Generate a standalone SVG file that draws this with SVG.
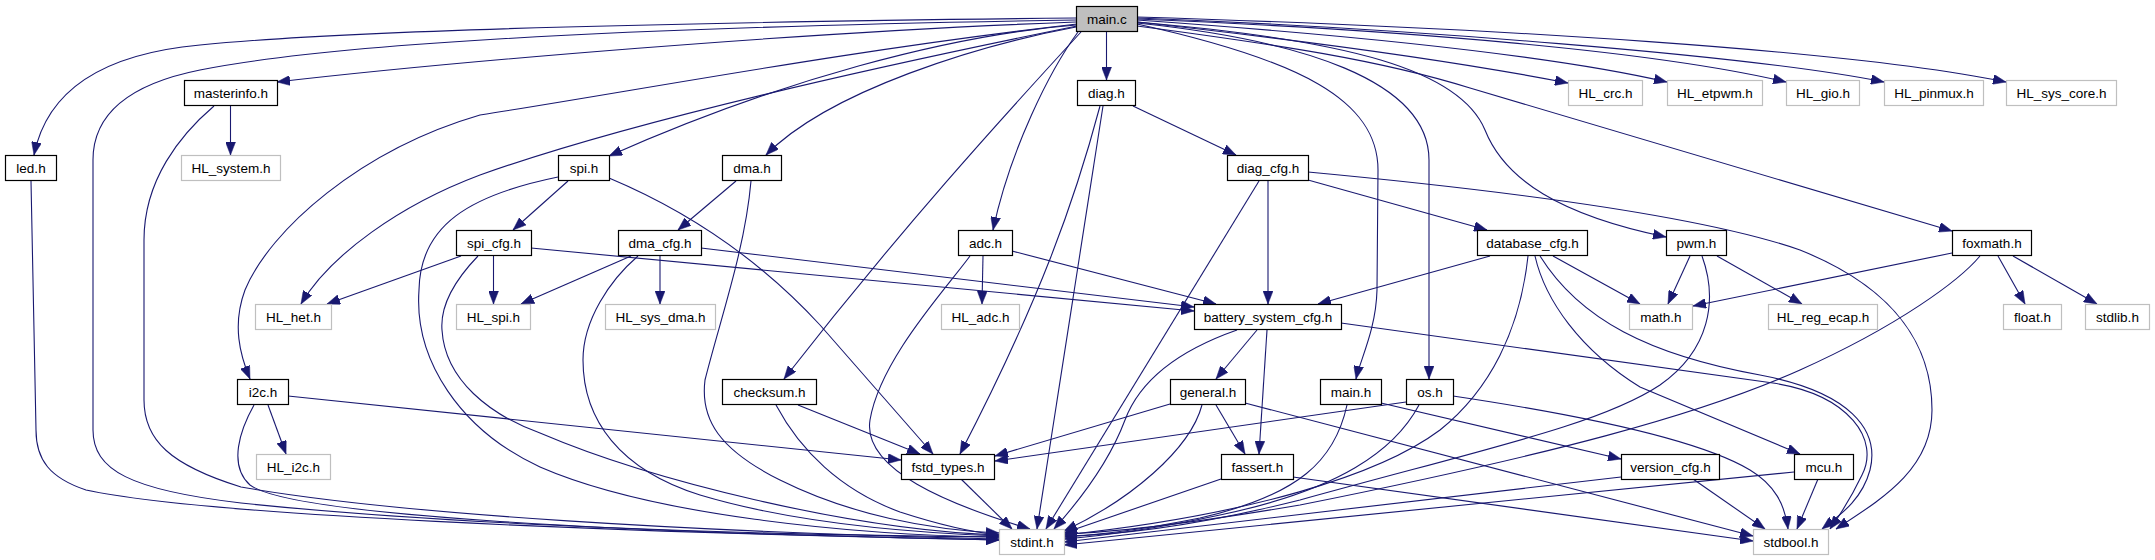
<svg xmlns="http://www.w3.org/2000/svg" width="2155" height="560" viewBox="0 0 2155 560">
<style>
.n rect{fill:#fff;stroke:#000;stroke-width:1.2}
.g rect{fill:#fff;stroke:#bfbfbf;stroke-width:1.2}
.c rect{fill:#bfbfbf;stroke:#000;stroke-width:1.2}
text{font-family:"Liberation Sans",Arial,Helvetica,sans-serif;font-size:13.5px;text-anchor:middle;fill:#000}
#edges path{fill:none;stroke:#191970;stroke-width:1.1;marker-end:url(#a)}
</style>
<defs>
<marker id="a" markerWidth="13" markerHeight="10" refX="13" refY="5" orient="auto" markerUnits="userSpaceOnUse"><path d="M0,0L13,5L0,10z" fill="#191970" stroke="#191970" stroke-width="0.5"/></marker>
</defs>
<rect width="2155" height="560" fill="#fff"/>
<g id="edges">
<path d="M1076,18 C700,22 350,30 200,45 C90,55 45,100 34,155"/>
<path d="M1076,20 C700,26 350,40 200,70 C120,86 93,120 93,160 L93,430 C93,470 130,490 241,503 C450,525 750,535 999,537"/>
<path d="M1076,22 C800,32 450,62 277,82"/>
<path d="M230.5,106 L230.5,155"/>
<path d="M214,106 C180,135 144,180 144,240 L144,400 C144,440 170,465 241,487 C400,515 700,532 999,539"/>
<path d="M31,181 L36,430 C36,460 50,478 86,490 C200,515 600,532 999,540"/>
<path d="M1076,25 C950,35 780,80 609,156"/>
<path d="M1076,27 C980,45 830,90 766,155"/>
<path d="M1077,26 C860,70 620,125 480,175 C400,205 330,255 301,304"/>
<path d="M1077,24 C850,50 640,90 480,115 C360,150 270,230 245,290 C232,325 240,355 250,379"/>
<path d="M1081,32 C1000,120 900,230 784,379"/>
<path d="M1078,32 C1050,70 1010,150 993,230"/>
<path d="M1106.5,32 L1106.5,80"/>
<path d="M1137,24 C1300,60 1378,100 1378,170 L1377,290 C1376,330 1360,360 1356,379"/>
<path d="M1137,23 C1300,40 1429,80 1429,160 L1429,379"/>
<path d="M1137,22 C1350,40 1460,70 1485,130 C1505,180 1560,215 1666,237"/>
<path d="M1137,26 C1280,45 1380,60 1470,88 L1952,231"/>
<path d="M1137,22 C1300,40 1450,60 1568,83"/>
<path d="M1137,20 C1350,35 1550,55 1667,82"/>
<path d="M1137,19 C1400,30 1650,50 1786,82"/>
<path d="M1137,18 C1400,28 1750,55 1884,82"/>
<path d="M1137,17 C1500,28 1850,50 2006,82"/>
<path d="M568,181 L513,230"/>
<path d="M609,178 C690,212 760,260 820,325 L933,454"/>
<path d="M558,177 C470,195 420,225 419,290 C414,360 460,430 540,467 C650,515 850,535 999,537"/>
<path d="M478,256 C455,280 440,305 442,330 C445,380 490,415 540,433 C650,480 850,530 999,535"/>
<path d="M461,256 L327,304"/>
<path d="M493.5,256 L493.5,304"/>
<path d="M531,248 L1194,311"/>
<path d="M736,181 L678,230"/>
<path d="M751,181 C745,250 720,320 705,380 C700,420 720,450 780,480 C850,515 930,530 999,533"/>
<path d="M631,256 L521,304"/>
<path d="M660,256 L660,304"/>
<path d="M701,248 L1194,307"/>
<path d="M638,256 C610,280 583,320 583,360 C583,420 620,470 700,495 C800,525 920,533 999,536"/>
<path d="M983,256 L982,304"/>
<path d="M1012,251 L1216,304"/>
<path d="M970,256 C945,290 880,360 870,420 C862,470 950,505 1030,529"/>
<path d="M1133,106 L1236,155"/>
<path d="M1100,106 C1075,200 1040,300 960,454"/>
<path d="M1103,106 L1037,529"/>
<path d="M1268,181 L1268,304"/>
<path d="M1308,180 L1487,230"/>
<path d="M1259,181 L1046,529"/>
<path d="M1308,172 C1500,190 1700,215 1800,250 C1900,290 1932,350 1932,410 C1932,470 1880,500 1836,529"/>
<path d="M1490,256 L1318,304"/>
<path d="M1553,256 L1640,304"/>
<path d="M1535,256 C1545,300 1580,350 1640,387 L1800,454"/>
<path d="M1540,256 C1580,320 1650,355 1760,375 C1850,392 1880,430 1870,470 C1862,500 1840,515 1822,529"/>
<path d="M1341,323 L1773,383 C1850,395 1880,440 1862,475 C1850,500 1840,515 1830,529"/>
<path d="M1257,330 L1216,379"/>
<path d="M1267,330 L1259,454"/>
<path d="M1237,330 C1180,350 1140,380 1125,420 C1110,460 1080,500 1054,529"/>
<path d="M1216,405 L1245,454"/>
<path d="M1170,404 L995,456"/>
<path d="M1202,405 C1190,450 1130,500 1064,531"/>
<path d="M1245,403 L1753,536"/>
<path d="M1221,479 L1064,533"/>
<path d="M1293,477 L1753,541"/>
<path d="M798,405 L920,454"/>
<path d="M776,405 C800,450 840,490 900,512 C940,525 970,532 999,535"/>
<path d="M961,479 L1012,529"/>
<path d="M268,405 L286,454"/>
<path d="M288,396 L901,460"/>
<path d="M254,405 C240,430 228,465 250,485 C290,515 600,532 999,540"/>
<path d="M1381,403 L1621,459"/>
<path d="M1347,405 C1335,460 1300,495 1200,518 C1140,530 1100,535 1064,537"/>
<path d="M1406,402 L995,461"/>
<path d="M1419,405 C1395,450 1340,490 1220,515 C1150,530 1100,536 1064,539"/>
<path d="M1453,396 C1580,415 1700,440 1750,470 C1775,485 1785,505 1788,529"/>
<path d="M1693,479 L1765,529"/>
<path d="M1621,477 L1064,542"/>
<path d="M1818,479 L1797,529"/>
<path d="M1794,472 L1064,545"/>
<path d="M1690,256 L1668,304"/>
<path d="M1717,256 L1802,304"/>
<path d="M1702,256 C1718,300 1710,350 1660,385 C1600,425 1480,450 1300,500 C1200,525 1120,535 1064,536"/>
<path d="M1952,253 L1693,306"/>
<path d="M1998,256 L2025,304"/>
<path d="M2013,256 L2097,304"/>
<path d="M1980,256 C1960,280 1900,325 1800,370 C1700,415 1550,455 1300,505 C1200,522 1120,532 1064,534"/>
<path d="M1528,256 C1520,330 1490,390 1440,430 C1380,475 1250,515 1064,535"/>
</g>
<g id="n_main_c" class="c"><rect x="1076.5" y="6.5" width="61" height="25"/><text x="1107" y="24">main.c</text></g>
<g id="n_masterinfo_h" class="n"><rect x="184.5" y="80.5" width="93" height="25"/><text x="231" y="98">masterinfo.h</text></g>
<g id="n_led_h" class="n"><rect x="5.5" y="155.5" width="51" height="25"/><text x="31" y="173">led.h</text></g>
<g id="n_HL_system_h" class="g"><rect x="181.5" y="155.5" width="99" height="25"/><text x="231" y="173">HL_system.h</text></g>
<g id="n_diag_h" class="n"><rect x="1077.5" y="80.5" width="58" height="25"/><text x="1106.5" y="98">diag.h</text></g>
<g id="n_HL_crc_h" class="g"><rect x="1568.5" y="80.5" width="74" height="25"/><text x="1605.5" y="98">HL_crc.h</text></g>
<g id="n_HL_etpwm_h" class="g"><rect x="1667.5" y="80.5" width="95" height="25"/><text x="1715" y="98">HL_etpwm.h</text></g>
<g id="n_HL_gio_h" class="g"><rect x="1786.5" y="80.5" width="73" height="25"/><text x="1823" y="98">HL_gio.h</text></g>
<g id="n_HL_pinmux_h" class="g"><rect x="1884.5" y="80.5" width="99" height="25"/><text x="1934" y="98">HL_pinmux.h</text></g>
<g id="n_HL_sys_core_h" class="g"><rect x="2006.5" y="80.5" width="110" height="25"/><text x="2061.5" y="98">HL_sys_core.h</text></g>
<g id="n_spi_h" class="n"><rect x="558.5" y="155.5" width="51" height="25"/><text x="584" y="173">spi.h</text></g>
<g id="n_dma_h" class="n"><rect x="722.5" y="155.5" width="59" height="25"/><text x="752" y="173">dma.h</text></g>
<g id="n_diag_cfg_h" class="n"><rect x="1227.5" y="155.5" width="81" height="25"/><text x="1268" y="173">diag_cfg.h</text></g>
<g id="n_spi_cfg_h" class="n"><rect x="456.5" y="230.5" width="75" height="25"/><text x="494" y="248">spi_cfg.h</text></g>
<g id="n_dma_cfg_h" class="n"><rect x="618.5" y="230.5" width="83" height="25"/><text x="660" y="248">dma_cfg.h</text></g>
<g id="n_adc_h" class="n"><rect x="958.5" y="230.5" width="54" height="25"/><text x="985.5" y="248">adc.h</text></g>
<g id="n_database_cfg_h" class="n"><rect x="1477.5" y="230.5" width="110" height="25"/><text x="1532.5" y="248">database_cfg.h</text></g>
<g id="n_pwm_h" class="n"><rect x="1666.5" y="230.5" width="60" height="25"/><text x="1696.5" y="248">pwm.h</text></g>
<g id="n_foxmath_h" class="n"><rect x="1952.5" y="230.5" width="79" height="25"/><text x="1992" y="248">foxmath.h</text></g>
<g id="n_HL_het_h" class="g"><rect x="255.5" y="304.5" width="76" height="25"/><text x="293.5" y="322">HL_het.h</text></g>
<g id="n_HL_spi_h" class="g"><rect x="456.5" y="304.5" width="74" height="25"/><text x="493.5" y="322">HL_spi.h</text></g>
<g id="n_HL_sys_dma_h" class="g"><rect x="605.5" y="304.5" width="110" height="25"/><text x="660.5" y="322">HL_sys_dma.h</text></g>
<g id="n_HL_adc_h" class="g"><rect x="941.5" y="304.5" width="78" height="25"/><text x="980.5" y="322">HL_adc.h</text></g>
<g id="n_battery_system_cfg_h" class="n"><rect x="1194.5" y="304.5" width="147" height="25"/><text x="1268" y="322">battery_system_cfg.h</text></g>
<g id="n_math_h" class="g"><rect x="1629.5" y="304.5" width="63" height="25"/><text x="1661" y="322">math.h</text></g>
<g id="n_HL_reg_ecap_h" class="g"><rect x="1768.5" y="304.5" width="109" height="25"/><text x="1823" y="322">HL_reg_ecap.h</text></g>
<g id="n_float_h" class="g"><rect x="2003.5" y="304.5" width="58" height="25"/><text x="2032.5" y="322">float.h</text></g>
<g id="n_stdlib_h" class="g"><rect x="2085.5" y="304.5" width="64" height="25"/><text x="2117.5" y="322">stdlib.h</text></g>
<g id="n_i2c_h" class="n"><rect x="237.5" y="379.5" width="51" height="25"/><text x="263" y="397">i2c.h</text></g>
<g id="n_checksum_h" class="n"><rect x="722.5" y="379.5" width="94" height="25"/><text x="769.5" y="397">checksum.h</text></g>
<g id="n_general_h" class="n"><rect x="1170.5" y="379.5" width="75" height="25"/><text x="1208" y="397">general.h</text></g>
<g id="n_main_h" class="n"><rect x="1320.5" y="379.5" width="61" height="25"/><text x="1351" y="397">main.h</text></g>
<g id="n_os_h" class="n"><rect x="1406.5" y="379.5" width="47" height="25"/><text x="1430" y="397">os.h</text></g>
<g id="n_HL_i2c_h" class="g"><rect x="256.5" y="454.5" width="74" height="25"/><text x="293.5" y="472">HL_i2c.h</text></g>
<g id="n_fstd_types_h" class="n"><rect x="901.5" y="454.5" width="93" height="25"/><text x="948" y="472">fstd_types.h</text></g>
<g id="n_fassert_h" class="n"><rect x="1221.5" y="454.5" width="72" height="25"/><text x="1257.5" y="472">fassert.h</text></g>
<g id="n_version_cfg_h" class="n"><rect x="1621.5" y="454.5" width="98" height="25"/><text x="1670.5" y="472">version_cfg.h</text></g>
<g id="n_mcu_h" class="n"><rect x="1794.5" y="454.5" width="59" height="25"/><text x="1824" y="472">mcu.h</text></g>
<g id="n_stdint_h" class="g"><rect x="999.5" y="529.5" width="65" height="25"/><text x="1032" y="547">stdint.h</text></g>
<g id="n_stdbool_h" class="g"><rect x="1753.5" y="529.5" width="75" height="25"/><text x="1791" y="547">stdbool.h</text></g>
</svg>
